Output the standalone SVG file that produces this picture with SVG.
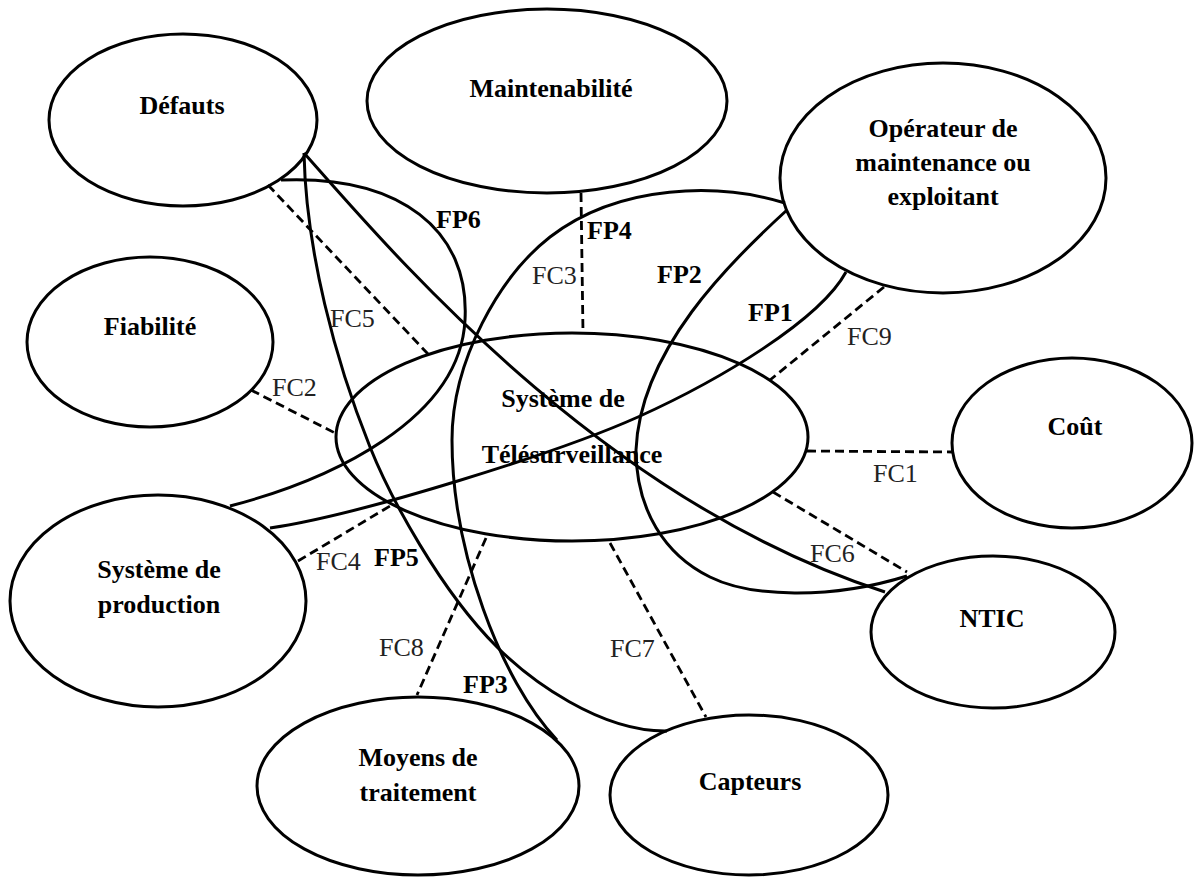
<svg xmlns="http://www.w3.org/2000/svg" width="1197" height="878" viewBox="0 0 1197 878">
<style>
  .node { fill: #fff; stroke: #000; stroke-width: 3; }
  .lbl { font-family: "Liberation Serif", "Times New Roman", serif; font-size: 26px; font-weight: bold; fill: #000; text-anchor: middle; }
  .fp { font-family: "Liberation Serif", "Times New Roman", serif; font-size: 26px; font-weight: bold; fill: #000; }
  .fc { font-family: "Liberation Serif", "Times New Roman", serif; font-size: 26px; fill: #222; }
  .solid { fill: none; stroke: #000; stroke-width: 3; }
  .dash { fill: none; stroke: #000; stroke-width: 2.8; stroke-dasharray: 9 5; }
</style>
<rect width="1197" height="878" fill="#fff"/>

<g id="nodes-outline">
  <g id="defauts"><ellipse class="node" cx="183" cy="120" rx="134" ry="86"/></g>
  <g id="maintenabilite"><ellipse class="node" cx="547" cy="101" rx="180" ry="92"/></g>
  <g id="operateur"><ellipse class="node" cx="943" cy="178" rx="163" ry="115"/></g>
  <g id="fiabilite"><ellipse class="node" cx="150" cy="342" rx="123" ry="85"/></g>
  <g id="cout"><ellipse class="node" cx="1072" cy="443" rx="120" ry="85"/></g>
  <g id="production"><ellipse class="node" cx="158" cy="601" rx="148" ry="106"/></g>
  <g id="ntic"><ellipse class="node" cx="993" cy="632" rx="122" ry="76"/></g>
  <g id="moyens"><ellipse class="node" cx="418" cy="786" rx="161" ry="89"/></g>
  <g id="capteurs"><ellipse class="node" cx="749" cy="795" rx="139" ry="80"/></g>
  <g id="systeme"><ellipse class="node" cx="572" cy="437" rx="236" ry="104" fill="none" style="fill:none"/></g>
</g>

<g id="connectors">
  <path class="solid" d="M281,180 C400,175 470,230 465,320 C460,420 330,480 230,506"/>
  <path class="solid" d="M304,153 C306,250 335,360 370,447 C390,497 440,590 497,647 C530,680 600,732 667,731"/>
  <path class="solid" d="M785,203 C720,183 620,183 550,237 C500,276 452,360 452,440 C452,550 500,680 557,740"/>
  <path class="solid" d="M304,153 C390,250 600,500 885,592"/>
  <path class="solid" d="M787,210 C730,262 640,350 636,450 C636,510 665,555 710,577 C750,597 830,600 907,576"/>
  <path class="solid" d="M846,272 C820,320 720,380 638,417 C560,452 360,515 270,528"/>

  <line class="dash" x1="251" y1="390" x2="335" y2="433"/>
  <line class="dash" x1="268" y1="185" x2="428" y2="354"/>
  <line class="dash" x1="581" y1="193" x2="583" y2="333"/>
  <line class="dash" x1="884" y1="287" x2="770" y2="380"/>
  <line class="dash" x1="807" y1="451" x2="952" y2="452"/>
  <line class="dash" x1="773" y1="492" x2="907" y2="572"/>
  <line class="dash" x1="610" y1="543" x2="706" y2="717"/>
  <line class="dash" x1="486" y1="538" x2="417" y2="695"/>
  <line class="dash" x1="298" y1="561" x2="390" y2="506"/>

  <text class="fc" x="272" y="396">FC2</text>
  <text class="fc" x="330" y="327">FC5</text>
  <text class="fc" x="532" y="284">FC3</text>
  <text class="fc" x="847" y="345">FC9</text>
  <text class="fc" x="873" y="482">FC1</text>
  <text class="fc" x="810" y="562">FC6</text>
  <text class="fc" x="610" y="657">FC7</text>
  <text class="fc" x="379" y="656">FC8</text>
  <text class="fc" x="316" y="570">FC4</text>

  <text class="fp" x="436" y="228">FP6</text>
  <text class="fp" x="587" y="239">FP4</text>
  <text class="fp" x="657" y="283">FP2</text>
  <text class="fp" x="748" y="321">FP1</text>
  <text class="fp" x="374" y="566">FP5</text>
  <text class="fp" x="463" y="693">FP3</text>
</g>

<g id="node-labels">
  <text class="lbl" x="182" y="114">Défauts</text>
  <text class="lbl" x="551" y="97">Maintenabilité</text>
  <text class="lbl" x="943" y="137">Opérateur de</text>
  <text class="lbl" x="943" y="171">maintenance ou</text>
  <text class="lbl" x="943" y="205">exploitant</text>
  <text class="lbl" x="150" y="335">Fiabilité</text>
  <text class="lbl" x="563" y="407">Système de</text>
  <text class="lbl" x="572" y="463">Télésurveillance</text>
  <text class="lbl" x="1075" y="435">Coût</text>
  <text class="lbl" x="159" y="578">Système de</text>
  <text class="lbl" x="159" y="613">production</text>
  <text class="lbl" x="992" y="627">NTIC</text>
  <text class="lbl" x="418" y="766">Moyens de</text>
  <text class="lbl" x="418" y="801">traitement</text>
  <text class="lbl" x="750" y="790">Capteurs</text>
</g>
</svg>
